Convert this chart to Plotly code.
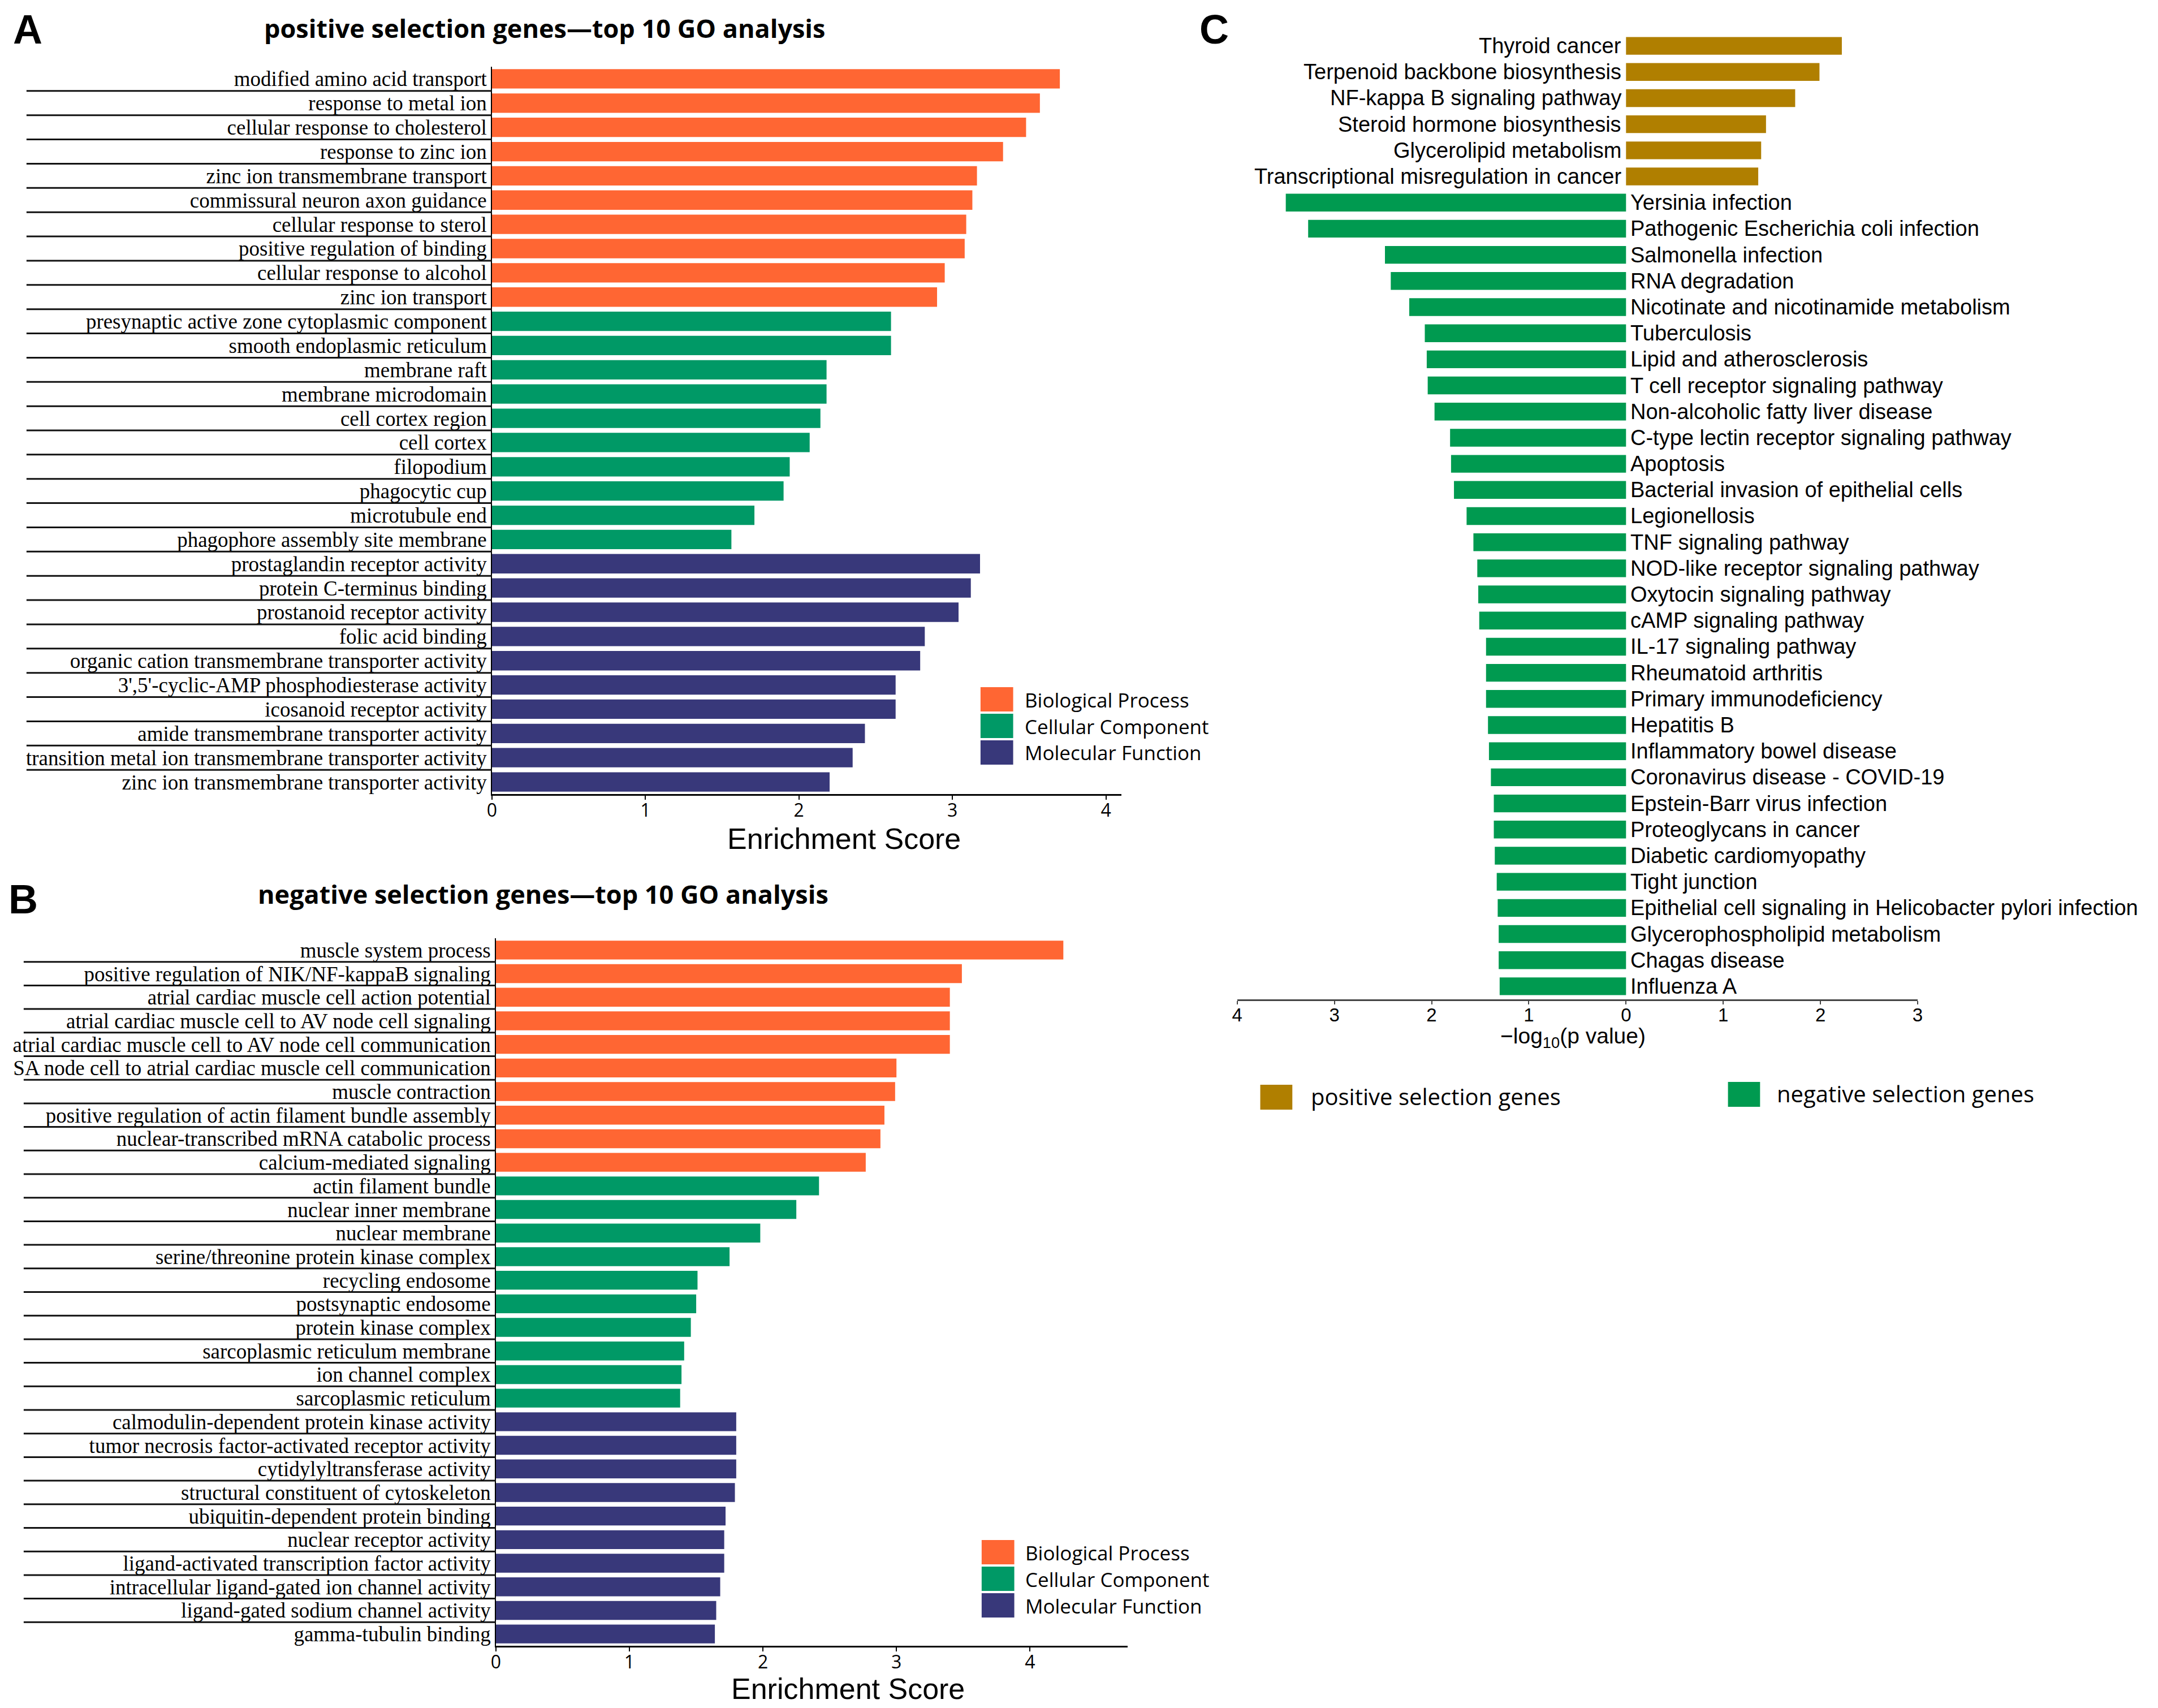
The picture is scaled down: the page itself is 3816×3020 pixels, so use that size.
import plotly.graph_objects as go

W, H = 3816, 3020

# ---- panel A : positive selection genes, top 10 GO terms per category
a_bp_terms = ["modified amino acid transport", "response to metal ion", "cellular response to cholesterol",
              "response to zinc ion", "zinc ion transmembrane transport", "commissural neuron axon guidance",
              "cellular response to sterol", "positive regulation of binding", "cellular response to alcohol",
              "zinc ion transport"]
a_bp_score = [3.70, 3.57, 3.48, 3.33, 3.16, 3.13, 3.09, 3.08, 2.95, 2.90]
a_cc_terms = ["presynaptic active zone cytoplasmic component", "smooth endoplasmic reticulum", "membrane raft",
              "membrane microdomain", "cell cortex region", "cell cortex", "filopodium", "phagocytic cup",
              "microtubule end", "phagophore assembly site membrane"]
a_cc_score = [2.60, 2.60, 2.18, 2.18, 2.14, 2.07, 1.94, 1.90, 1.71, 1.56]
a_mf_terms = ["prostaglandin receptor activity", "protein C-terminus binding", "prostanoid receptor activity",
              "folic acid binding", "organic cation transmembrane transporter activity",
              "3',5'-cyclic-AMP phosphodiesterase activity", "icosanoid receptor activity",
              "amide transmembrane transporter activity",
              "transition metal ion transmembrane transporter activity",
              "zinc ion transmembrane transporter activity"]
a_mf_score = [3.18, 3.12, 3.04, 2.82, 2.79, 2.63, 2.63, 2.43, 2.35, 2.20]

# ---- panel B : negative selection genes
b_bp_terms = ["muscle system process", "positive regulation of NIK/NF-kappaB signaling",
              "atrial cardiac muscle cell action potential", "atrial cardiac muscle cell to AV node cell signaling",
              "atrial cardiac muscle cell to AV node cell communication",
              "SA node cell to atrial cardiac muscle cell communication", "muscle contraction",
              "positive regulation of actin filament bundle assembly",
              "nuclear-transcribed mRNA catabolic process", "calcium-mediated signaling"]
b_bp_score = [4.25, 3.49, 3.40, 3.40, 3.40, 3.00, 2.99, 2.91, 2.88, 2.77]
b_cc_terms = ["actin filament bundle", "nuclear inner membrane", "nuclear membrane",
              "serine/threonine protein kinase complex", "recycling endosome", "postsynaptic endosome",
              "protein kinase complex", "sarcoplasmic reticulum membrane", "ion channel complex",
              "sarcoplasmic reticulum"]
b_cc_score = [2.42, 2.25, 1.98, 1.75, 1.51, 1.50, 1.46, 1.41, 1.39, 1.38]
b_mf_terms = ["calmodulin-dependent protein kinase activity", "tumor necrosis factor-activated receptor activity",
              "cytidylyltransferase activity", "structural constituent of cytoskeleton",
              "ubiquitin-dependent protein binding", "nuclear receptor activity",
              "ligand-activated transcription factor activity", "intracellular ligand-gated ion channel activity",
              "ligand-gated sodium channel activity", "gamma-tubulin binding"]
b_mf_score = [1.80, 1.80, 1.80, 1.79, 1.72, 1.71, 1.71, 1.68, 1.65, 1.64]

go_groups = ["Biological Process", "Cellular Component", "Molecular Function"]
go_colors = ["#FF6633", "#009966", "#38387A"]

# ---- panel C : KEGG pathways, -log10(p)
c_pos_paths = ["Thyroid cancer", "Terpenoid backbone biosynthesis", "NF-kappa B signaling pathway",
               "Steroid hormone biosynthesis", "Glycerolipid metabolism", "Transcriptional misregulation in cancer"]
c_pos_vals = [2.22, 1.99, 1.74, 1.44, 1.39, 1.36]
c_neg_paths = ["Yersinia infection", "Pathogenic Escherichia coli infection", "Salmonella infection",
               "RNA degradation", "Nicotinate and nicotinamide metabolism", "Tuberculosis",
               "Lipid and atherosclerosis", "T cell receptor signaling pathway", "Non-alcoholic fatty liver disease",
               "C-type lectin receptor signaling pathway", "Apoptosis", "Bacterial invasion of epithelial cells",
               "Legionellosis", "TNF signaling pathway", "NOD-like receptor signaling pathway",
               "Oxytocin signaling pathway", "cAMP signaling pathway", "IL-17 signaling pathway",
               "Rheumatoid arthritis", "Primary immunodeficiency", "Hepatitis B", "Inflammatory bowel disease",
               "Coronavirus disease - COVID-19", "Epstein-Barr virus infection", "Proteoglycans in cancer",
               "Diabetic cardiomyopathy", "Tight junction", "Epithelial cell signaling in Helicobacter pylori infection",
               "Glycerophospholipid metabolism", "Chagas disease", "Influenza A"]
c_neg_vals = [3.50, 3.27, 2.48, 2.42, 2.23, 2.07, 2.05, 2.04, 1.97, 1.81, 1.80, 1.77, 1.64, 1.57, 1.53,
              1.52, 1.51, 1.44, 1.44, 1.44, 1.42, 1.41, 1.39, 1.36, 1.36, 1.35, 1.33, 1.32, 1.31, 1.31, 1.30]
c_groups = ["positive selection genes", "negative selection genes"]
c_colors = ["#B07F00", "#009A50"]
c_ticks = [-4, -3, -2, -1, 0, 1, 2, 3]


def px(x):
    return x / W


def py(y):
    return 1 - y / H


SERIF = "Liberation Serif"
SANS = "Liberation Sans"
YAHEI = "Open Sans"

fig = go.Figure()
shapes = []
annotations = []


def go_panel(n, groups, left, right, top, bottom, xmax, line_start, title, title_xy, letter, letter_xy,
             xlabel_xy, legend_x, legend_y):
    xa, ya = ("x", "y") if n == 1 else ("x%d" % n, "y%d" % n)
    terms = []
    for (t, s), name, col in zip(groups, go_groups, go_colors):
        terms += t
        fig.add_trace(go.Bar(x=s, y=t, orientation="h", name=name, marker_color=col, width=0.8,
                             marker_line_width=0, showlegend=False, xaxis=xa, yaxis=ya))
    axn = "" if n == 1 else str(n)
    fig.layout["xaxis" + axn] = dict(domain=[px(left), px(right)], anchor=ya, range=[0, xmax],
                                     showline=True, linecolor="black", linewidth=3, ticks="outside",
                                     ticklen=7, tickwidth=2, tickcolor="black", dtick=1, tick0=0,
                                     ticklabelstandoff=-8, showgrid=False, zeroline=False,
                                     tickfont=dict(family=YAHEI, size=32, color="black"))
    fig.layout["yaxis" + axn] = dict(domain=[py(bottom), py(top)], anchor=xa, type="category",
                                     categoryorder="array", categoryarray=terms,
                                     tickmode="array", tickvals=terms, ticktext=terms,
                                     range=[len(terms) - 0.5, -0.5], showline=True, linecolor="black",
                                     linewidth=1.5, ticks="", showgrid=False, zeroline=False,
                                     ticklabelstandoff=0,
                                     tickfont=dict(family=SERIF, size=37, color="black"))
    for i in range(len(terms) - 1):
        shapes.append(dict(type="line", xref="paper", yref=ya, x0=px(line_start), x1=px(left),
                           y0=i + 0.5, y1=i + 0.5, line=dict(color="#111", width=3)))
    annotations.append(dict(text=title, x=px(title_xy[0]), y=py(title_xy[1]), xref="paper", yref="paper",
                            showarrow=False, xanchor="center", yanchor="middle",
                            font=dict(family=YAHEI, size=45, color="black", weight="bold")))
    annotations.append(dict(text=letter, x=px(letter_xy[0]), y=py(letter_xy[1]), xref="paper", yref="paper",
                            showarrow=False, xanchor="left", yanchor="middle",
                            font=dict(family=SANS, size=72, color="black", weight="bold")))
    annotations.append(dict(text="Enrichment Score", x=px(xlabel_xy[0]), y=py(xlabel_xy[1]), xref="paper",
                            yref="paper", showarrow=False, xanchor="center", yanchor="middle",
                            font=dict(family=SANS, size=52, color="black")))
    for k, (name, col) in enumerate(zip(go_groups, go_colors)):
        y0 = legend_y + k * 47
        shapes.append(dict(type="rect", xref="paper", yref="paper", x0=px(legend_x), x1=px(legend_x + 58),
                           y0=py(y0), y1=py(y0 + 43), fillcolor=col, line=dict(width=0)))
        annotations.append(dict(text=name, x=px(legend_x + 76), y=py(y0 + 22), xref="paper", yref="paper",
                                showarrow=False, xanchor="left", yanchor="middle",
                                font=dict(family=YAHEI, size=35, color="black")))


go_panel(1, [(a_bp_terms, a_bp_score), (a_cc_terms, a_cc_score), (a_mf_terms, a_mf_score)],
         857, 1975, 110, 1396, 4.10, 30, "positive selection genes\u2014top 10 GO analysis",
         (950, 42), "A", (4, 44), (1482, 1475), 1725, 1207)
go_panel(2, [(b_bp_terms, b_bp_score), (b_cc_terms, b_cc_score), (b_mf_terms, b_mf_score)],
         864, 1986, 1651, 2902, 4.73, 25, "negative selection genes\u2014top 10 GO analysis",
         (948, 1572), "B", (-4, 1582), (1490, 2978), 1727, 2715)

# ---- panel C
c_all = c_pos_paths + c_neg_paths
fig.add_trace(go.Bar(x=c_pos_vals, y=c_pos_paths, orientation="h", marker_color=c_colors[0], width=0.68,
                     marker_line_width=0, showlegend=False, xaxis="x3", yaxis="y3"))
fig.add_trace(go.Bar(x=[-v for v in c_neg_vals], y=c_neg_paths, orientation="h", marker_color=c_colors[1],
                     width=0.68, marker_line_width=0, showlegend=False, xaxis="x3", yaxis="y3"))
# pathway names sit on the zero line: left of it for positive bars, right of it for negative ones
for names, side in ((c_pos_paths, "right"), (c_neg_paths, "left")):
    for name in names:
        annotations.append(dict(text=name, x=0, y=name, xref="x3", yref="y3", showarrow=False,
                                xanchor=side, yanchor="middle", xshift=-6 if side == "right" else 6,
                                font=dict(family=SANS, size=38, color="black")))
fig.layout.xaxis3 = dict(domain=[px(2181), px(3390)], anchor="y3", range=[-4, 3], showline=True,
                         linecolor="#444", linewidth=3, ticks="outside", ticklen=6, tickwidth=2,
                         tickcolor="#444", tickvals=c_ticks, ticktext=[str(abs(t)) for t in c_ticks],
                         ticklabelstandoff=-10, showgrid=False, zeroline=False,
                         tickfont=dict(family=SANS, size=33, color="black"))
fig.layout.yaxis3 = dict(domain=[py(1759), py(50)], anchor="x3", type="category", categoryorder="array",
                         categoryarray=c_all, range=[len(c_all) - 0.5, -0.5], showline=False,
                         showticklabels=False, ticks="", showgrid=False, zeroline=False)

annotations.append(dict(text="C", x=px(2112), y=py(44), xref="paper", yref="paper", showarrow=False,
                        xanchor="left", yanchor="middle",
                        font=dict(family=SANS, size=72, color="black", weight="bold")))
annotations.append(dict(text="\u2212log<sub>10</sub>(p value)", x=px(2778), y=py(1826), xref="paper",
                        yref="paper", showarrow=False, xanchor="center", yanchor="middle",
                        font=dict(family=SANS, size=39, color="black")))
for name, col, sx, sy, tx in zip(c_groups, c_colors, [2222, 3053], [1910, 1905], [2310, 3138]):
    shapes.append(dict(type="rect", xref="paper", yref="paper", x0=px(sx), x1=px(sx + 57),
                       y0=py(sy), y1=py(sy + 44), fillcolor=col, line=dict(width=0)))
    annotations.append(dict(text=name, x=px(tx), y=py(sy + 20), xref="paper", yref="paper",
                            showarrow=False, xanchor="left", yanchor="middle",
                            font=dict(family=YAHEI, size=40, color="black")))

fig.update_layout(width=W, height=H, autosize=False, margin=dict(l=0, r=0, t=0, b=0), barmode="overlay",
                  paper_bgcolor="white", plot_bgcolor="white", shapes=shapes, annotations=annotations)

fig.write_html("out.html")
